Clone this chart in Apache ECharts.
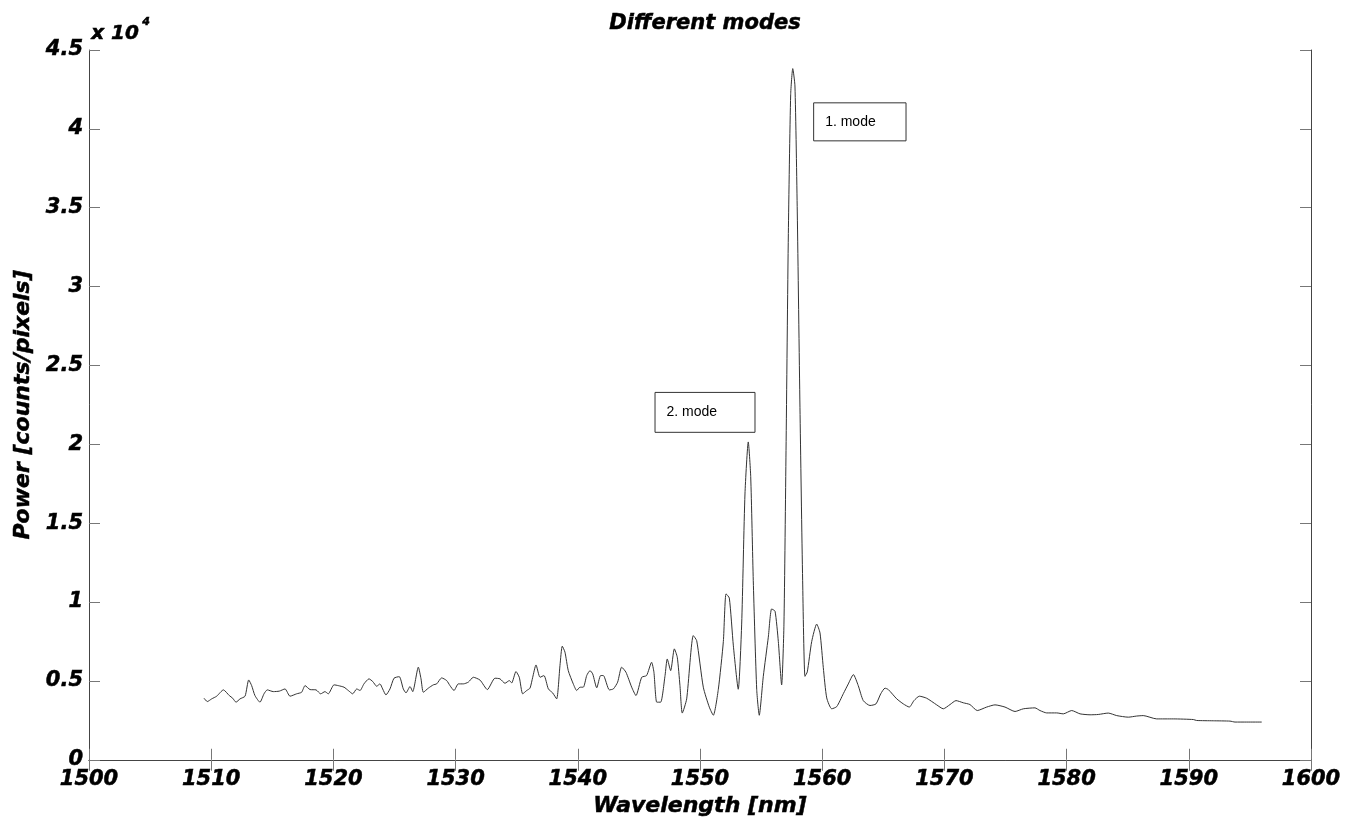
<!DOCTYPE html>
<html>
<head>
<meta charset="utf-8">
<script src="https://cdn.jsdelivr.net/npm/echarts@6/dist/echarts.min.js"></script>
<style>html,body{margin:0;padding:0;background:#fff}#c{width:1348px;height:823px}</style>
</head>
<body>
<div id="c"></div>
<script>
// ---- data ----
const wavelength = [
1509.41,1509.68,1510.04,1510.45,1511.00,1511.48,1511.76,1512.03,1512.36,1512.77,
1513.07,1513.31,1513.58,1513.99,1514.32,1514.59,1515.08,1515.57,1516.04,1516.45,
1516.99,1517.40,1517.68,1518.09,1518.58,1518.96,1519.31,1519.58,1520.05,1520.40,
1520.87,1521.22,1521.58,1521.91,1522.18,1522.50,1522.91,1523.22,1523.54,1523.81,
1524.03,1524.30,1524.63,1524.96,1525.39,1525.72,1525.94,1526.27,1526.49,1526.95,
1527.17,1527.36,1527.77,1528.18,1528.45,1528.86,1529.27,1529.54,1529.87,1530.22,
1530.63,1531.04,1531.45,1532.00,1532.60,1533.22,1533.63,1534.04,1534.40,1534.59,
1534.94,1535.21,1535.49,1535.82,1536.09,1536.31,1536.58,1536.91,1537.23,1537.59,
1537.94,1538.27,1538.54,1538.73,1538.95,1539.22,1539.63,1539.91,1540.18,1540.45,
1540.73,1541.00,1541.22,1541.55,1541.87,1542.09,1542.58,1542.91,1543.26,1543.59,
1543.94,1544.41,1544.76,1545.23,1545.63,1546.04,1546.23,1546.46,1546.78,1547.14,
1547.32,1547.60,1547.90,1548.14,1548.36,1548.55,1548.91,1549.45,1549.73,1550.27,
1550.76,1551.09,1551.50,1551.91,1552.13,1552.40,1552.73,1553.13,1553.41,1553.68,
1553.95,1554.15,1554.36,1554.64,1554.85,1555.18,1555.59,1555.86,1556.14,1556.41,
1556.68,1556.87,1557.04,1557.23,1557.42,1557.59,1557.77,1557.96,1558.18,1558.40,
1558.59,1558.78,1559.14,1559.55,1559.82,1560.09,1560.37,1560.78,1561.19,1561.73,
1562.13,1562.55,1562.95,1563.36,1563.91,1564.40,1564.79,1565.14,1565.41,1566.10,
1566.64,1567.13,1567.51,1567.95,1568.55,1569.37,1569.91,1570.46,1570.95,1571.55,
1572.09,1572.69,1573.46,1574.14,1574.96,1575.78,1576.46,1577.41,1577.82,1578.37,
1579.19,1579.73,1580.42,1581.10,1581.92,1582.59,1583.41,1584.10,1585.05,1585.73,
1586.27,1587.37,1588.73,1590.37,1590.64,1592.00,1593.37,1593.78,1594.74,1595.97
];
const power = [
3905,3690,3860,4030,4430,4070,3900,3650,3860,4030,
5060,4700,4070,3650,4180,4430,4320,4350,4490,4030,
4180,4280,4700,4450,4430,4180,4320,4180,4750,4700,
4600,4390,4180,4490,4390,4810,5130,4960,4660,4810,
4490,4110,4490,5170,5270,4490,4240,4640,4320,5870,
5130,4280,4540,4750,4810,5190,5020,4700,4390,4810,
4810,4920,5230,5050,4450,5170,5130,4850,5020,4870,
5590,5230,4180,4390,4540,5230,6010,5230,5340,4490,
4240,3860,5970,7200,6820,5650,4810,4390,4600,4600,
5340,5650,5440,4560,5340,5340,4430,4490,4920,5870,
5550,4600,4070,5230,5340,6180,5550,3650,3650,5340,
6390,5650,7030,6500,4700,2960,3860,7870,7550,4600,
3340,2820,4470,7490,10520,10250,7220,4470,8600,16850,
20150,17950,11350,4470,2820,5290,7770,9560,9420,7490,
4740,8600,19600,33360,42160,43820,42720,34730,22350,11350,
5290,5570,7490,8600,8040,5840,3920,3230,3370,4190,
4800,5400,4700,3750,3440,3540,4180,4540,4450,3860,
3540,3340,3750,4030,3900,3480,3230,3500,3750,3610,
3500,3120,3340,3480,3340,3060,3230,3290,3120,2970,
2970,2910,3120,2910,2850,2870,2960,2800,2700,2770,
2800,2590,2590,2550,2490,2470,2450,2390,2390,2390
];
const xTicks = {min: 1500, max: 1600, step: 10};
const yTicks = {min: 0, max: 45000, step: 5000, scale: 10000};
const titleText = 'Different modes';
const xName = 'Wavelength [nm]';
const yName = 'Power [counts/pixels]';
const exponentLabel = ['x 10', '4'];
// annotation boxes in data coordinates: [label, [x0,y0], [x1,y1]]
const annotations = [
  ['1. mode', [1559.3, 41650], [1566.86, 39240]],
  ['2. mode', [1546.32, 23290], [1554.50, 20760]]
];

const FONT = '"DejaVu Sans", "Liberation Sans", Arial, sans-serif';
const FONT2 = '"Liberation Sans", Arial, Helvetica, sans-serif';
const chart = echarts.init(document.getElementById('c'), null, {renderer: 'canvas'});
const boldIt = {fontFamily: FONT, fontWeight: 'bold', fontStyle: 'italic', color: '#000',
  textBorderColor: '#000', textBorderWidth: 0.5};
const richBase = {fontFamily: FONT, fontWeight: 'bold', fontStyle: 'italic', fill: '#000',
  stroke: '#000', lineWidth: 0.5};
const axisLine = {show: true, lineStyle: {color: '#444', width: 1}};
const tick = {show: true, inside: true, length: 11, lineStyle: {color: '#777', width: 1}};

chart.setOption({
  animation: false,
  backgroundColor: '#fff',
  title: {
    text: titleText, left: 700, top: 8, textAlign: 'center',
    textStyle: Object.assign({}, boldIt, {fontSize: 21})
  },
  grid: {left: 89, right: 37, top: 50, bottom: 62, containLabel: false},
  graphic: [{
    type: 'text', left: 91, top: 24,
    style: Object.assign({}, richBase, {text: exponentLabel[0], fontSize: 20})
  }, {
    type: 'text', left: 142, top: 16,
    style: Object.assign({}, richBase, {text: exponentLabel[1], fontSize: 11})
  }],
  xAxis: [{
    type: 'value', min: xTicks.min, max: xTicks.max, interval: xTicks.step,
    position: 'bottom',
    name: xName, nameLocation: 'middle', nameGap: 36,
    nameTextStyle: Object.assign({}, boldIt, {fontSize: 22}),
    axisLine: axisLine, axisTick: tick, splitLine: {show: false},
    axisLabel: Object.assign({}, boldIt, {fontSize: 21, margin: 9,
      formatter: v => String(v)})
  }, {
    type: 'value', min: xTicks.min, max: xTicks.max, interval: xTicks.step,
    position: 'top', axisLine: axisLine, axisTick: tick,
    axisLabel: {show: false}, splitLine: {show: false}
  }],
  yAxis: [{
    type: 'value', min: yTicks.min, max: yTicks.max, interval: yTicks.step,
    position: 'left',
    name: yName, nameLocation: 'middle', nameGap: 52,
    nameTextStyle: Object.assign({}, boldIt, {fontSize: 22}),
    axisLine: axisLine, axisTick: tick, splitLine: {show: false},
    axisLabel: Object.assign({}, boldIt, {fontSize: 21, margin: 6,
      formatter: v => String(v / yTicks.scale)})
  }, {
    type: 'value', min: yTicks.min, max: yTicks.max, interval: yTicks.step,
    position: 'right', axisLine: axisLine, axisTick: tick,
    axisLabel: {show: false}, splitLine: {show: false}
  }],
  series: [{
    type: 'line', xAxisIndex: 0, yAxisIndex: 0,
    data: wavelength.map((w, i) => [w, power[i]]),
    showSymbol: false, symbol: 'none', smooth: 0.2,
    lineStyle: {color: '#333', width: 1},
    silent: true,
    markArea: {
      silent: true,
      itemStyle: {color: '#fff', opacity: 1, borderColor: '#333', borderWidth: 1},
      label: {show: true, position: 'insideLeft', distance: 12, color: '#000',
        fontFamily: FONT2, fontSize: 14},
      emphasis: {disabled: true},
      data: annotations.map(a => [{name: a[0], coord: a[1]}, {coord: a[2]}])
    }
  }]
});
</script>
</body>
</html>
